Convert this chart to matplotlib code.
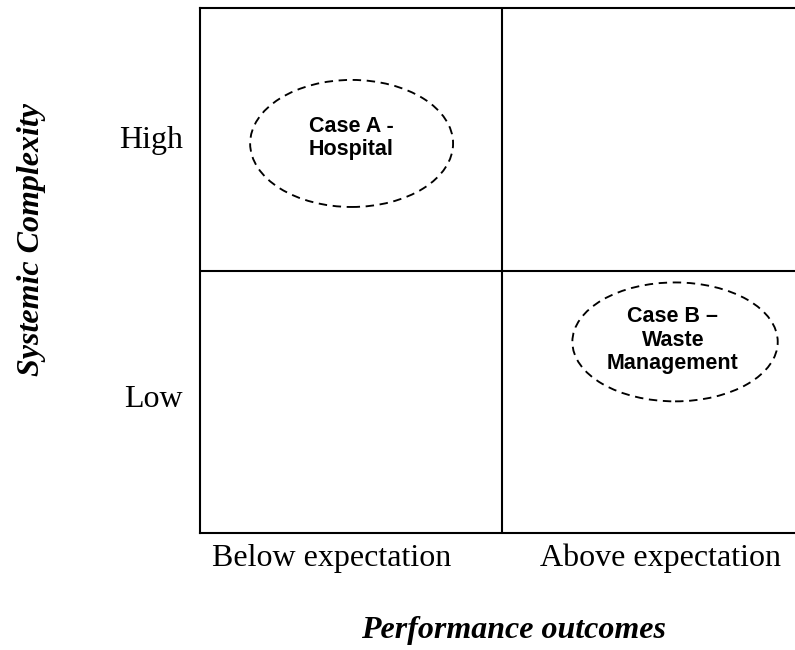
import matplotlib.pyplot as plt
from matplotlib.patches import Ellipse

# Axis categories
x_labels = ['Below expectation', 'Above expectation']
y_labels = ['Low', 'High']

# Cases: label, centre and size in grid units (each quadrant is 1 x 1)
case_labels = ['Case A -\nHospital', 'Case B \u2013\nWaste\nManagement']
case_x = [0.502, 1.573]
case_y = [1.484, 0.728]
case_w = [0.672, 0.68]
case_h = [0.484, 0.453]
text_x = [0.50, 1.566]
text_y = [1.505, 0.735]

W, H = 795, 650
fig = plt.figure(figsize=(W / 100, H / 100), dpi=100)
ax = fig.add_axes([200 / W, (H - 533) / H, 604 / W, 525 / H])
ax.set_xlim(0, 2)
ax.set_ylim(0, 2)

# quadrant lines
ax.axvline(1, color='black', lw=1.5)
ax.axhline(1, color='black', lw=1.5)
for s in ax.spines.values():
    s.set_linewidth(1.5)
ax.set_xticks([])
ax.set_yticks([])

serif = 'Liberation Serif'

# category labels (pixel positions of baselines)
for lab, px in zip(x_labels, [332, 660]):
    fig.text(px / W, (H - 566) / H, lab, ha='center', va='baseline',
             fontsize=23, family=serif)
for lab, py in zip(y_labels, [407, 148]):
    fig.text(183 / W, (H - py) / H, lab, ha='right', va='baseline',
             fontsize=23, family=serif)

# case ellipses
for lab, x, y, w, h, tx, ty in zip(case_labels, case_x, case_y, case_w,
                                   case_h, text_x, text_y):
    ax.add_patch(Ellipse((x, y), w, h, fill=False, ls=(0, (4.5, 3)),
                         lw=1.35, color='black'))
    ax.text(tx, ty, lab, ha='center', va='center', fontsize=15.5,
            fontweight='bold', family='Liberation Sans', linespacing=1.15)

# axis titles
fig.text(32 / W, (H - 240) / H, 'Systemic Complexity', rotation=90,
         ha='center', va='center', fontsize=23, fontweight='bold',
         style='italic', family=serif)
fig.text(514 / W, (H - 638) / H, 'Performance outcomes', ha='center',
         va='baseline', fontsize=23, fontweight='bold', style='italic',
         family=serif)

fig.savefig('out.png', dpi=100)
